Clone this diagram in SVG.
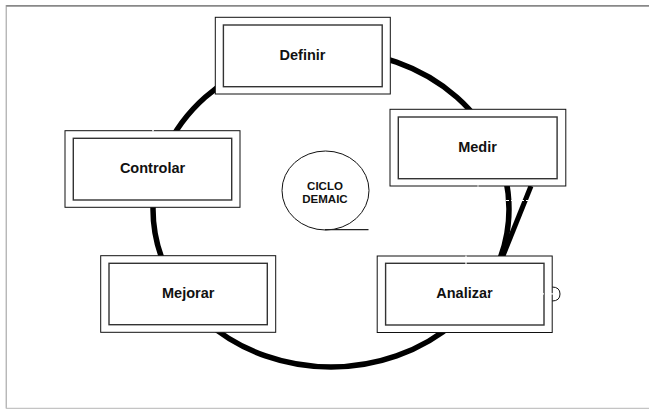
<svg xmlns="http://www.w3.org/2000/svg" width="649" height="409" viewBox="0 0 649 409">
  <style>
    .outer { fill: #fff; stroke: #111; stroke-width: 1; }
    .inner { fill: #fff; stroke: #333; stroke-width: 1.4; }
    .label { font-family: "Liberation Sans", Arial, sans-serif; font-weight: bold; font-size: 14.5px; fill: #111; text-anchor: middle; }
    .small { font-family: "Liberation Sans", Arial, sans-serif; font-weight: bold; font-size: 11.5px; fill: #111; text-anchor: middle; }
    .ring { fill: none; stroke: #000; stroke-width: 5.5; }
    .gap { stroke: #fff; stroke-width: 1.2; stroke-dasharray: 3 2; fill: none; }
  </style>

  <!-- page frame -->
  <rect width="649" height="409" fill="#fff"/>
  <line x1="6" y1="5.8" x2="649" y2="5.8" stroke="#888" stroke-width="1.8"/>
  <line x1="6.2" y1="5" x2="6.2" y2="408.5" stroke="#999" stroke-width="1"/>
  <line x1="6" y1="408.3" x2="649" y2="408.3" stroke="#c4c4c4" stroke-width="1.2"/>

  <!-- connectors: the cycle ring and the extra Medir-Analizar stroke -->
  <g id="connectors">
    <ellipse class="ring" cx="331" cy="209" rx="178" ry="158"/>
    <line x1="531" y1="186" x2="502.5" y2="257" stroke="#000" stroke-width="5"/>
    <line class="gap" x1="506" y1="200.5" x2="530" y2="200.5"/>
    <path d="M552 287 Q560 287 560 294 Q560 301 552 301" fill="none" stroke="#111" stroke-width="1"/>
  </g>

  <g id="definir">
    <rect class="outer" x="215.3" y="17.3" width="175" height="76.7"/>
    <rect class="inner" x="223.4" y="25" width="158.8" height="61.7"/>
    <text class="label" x="302.5" y="60">Definir</text>
  </g>

  <g id="medir">
    <rect class="outer" x="390" y="109.3" width="175.8" height="76.7"/>
    <rect class="inner" x="398.3" y="117" width="158.8" height="61.7"/>
    <text class="label" x="477.5" y="151.5">Medir</text>
    <line x1="478" y1="185.5" x2="478" y2="186.6" stroke="#fff" stroke-width="1.5"/>
  </g>

  <g id="analizar">
    <rect class="outer" x="377.2" y="256" width="175" height="76.5"/>
    <rect class="inner" x="385.6" y="263.3" width="158.4" height="61.7"/>
    <text class="label" x="464.5" y="298">Analizar</text>
    <line x1="466" y1="255.4" x2="466" y2="264" stroke="#fff" stroke-width="1.2"/>
    <line class="gap" x1="486" y1="293.8" x2="556" y2="293.8"/>
  </g>

  <g id="mejorar">
    <rect class="outer" x="100.7" y="255.7" width="175" height="76.6"/>
    <rect class="inner" x="109" y="263.3" width="158.3" height="61.4"/>
    <text class="label" x="188.2" y="298">Mejorar</text>
  </g>

  <g id="controlar">
    <rect class="outer" x="65" y="130.7" width="175" height="76.6"/>
    <rect class="inner" x="73.3" y="138.3" width="158.4" height="61.7"/>
    <text class="label" x="152.5" y="173">Controlar</text>
    <line x1="153" y1="130" x2="153" y2="131.5" stroke="#fff" stroke-width="1.5"/>
  </g>

  <g id="ciclo">
    <ellipse cx="325.5" cy="190.5" rx="43.5" ry="39.5" fill="#fff" stroke="#111" stroke-width="1"/>
    <line x1="325" y1="229.6" x2="368.5" y2="229.6" stroke="#222" stroke-width="1.2"/>
    <text class="small" x="325" y="189.5">CICLO</text>
    <text class="small" x="325" y="203">DEMAIC</text>
  </g>
</svg>
